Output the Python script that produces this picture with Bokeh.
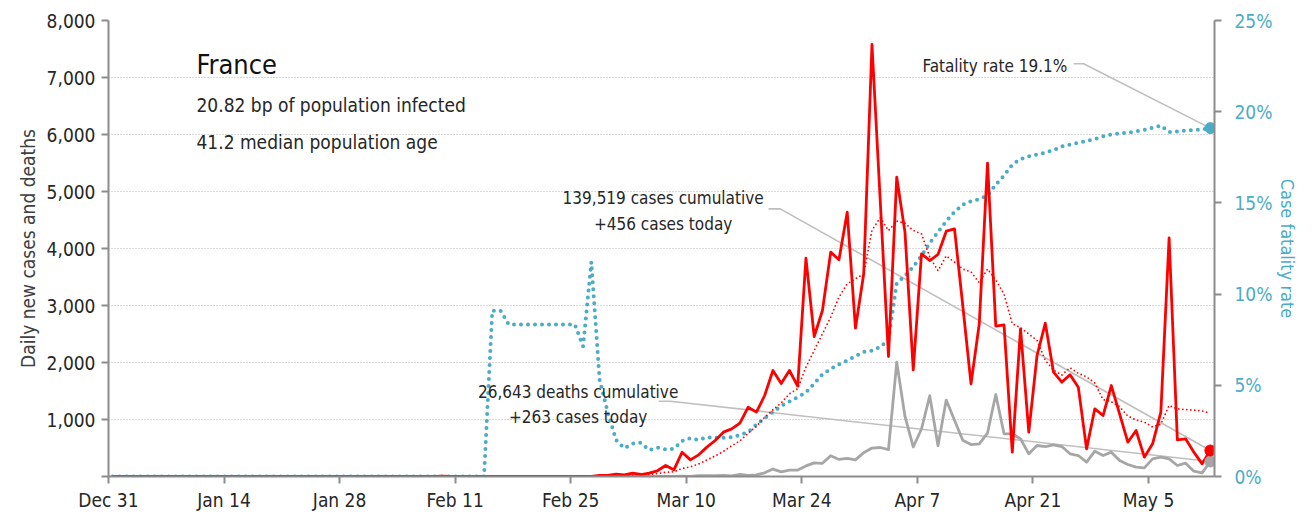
from bokeh.plotting import figure
from bokeh.models import Range1d, LinearAxis, FixedTicker, NumeralTickFormatter
from bokeh.core.properties import value
from bokeh.embed import file_html
from bokeh.resources import INLINE

# ---------------- data (Dec 31 .. May 13, one value per day) ----------------
tick_labels = ["Dec 31", "Jan 14", "Jan 28", "Feb 11", "Feb 25", "Mar 10",
               "Mar 24", "Apr 7", "Apr 21", "May 5"]
tick_days = [0, 14, 28, 42, 56, 70, 84, 98, 112, 126]

new_cases = (
    [0] * 25 + [3, 0, 0, 1, 0, 1, 0, 1] + [0] * 7 + [5] + [0] * 7 + [1] + [0] * 8 +
    [2, 3, 21, 19, 43, 30, 58, 35, 60, 100,
     193, 117, 427, 292, 380, 515, 632, 778, 836, 936,
     1216, 1129, 1421, 1860, 1630, 1860, 1585, 3830, 2456, 2912,
     3936, 3801, 4637, 2602, 3556, 7579, 4842, 2105, 5251, 4286,
     1871, 3907, 3789, 3895, 4304, 4345, 3000, 1626, 2679, 5497,
     2640, 2661, 427, 2591, 777, 2123, 2690, 1830, 1655, 1784,
     1567, 485, 1187, 1070, 1596, 1099, 602, 807, 339, 573,
     1129, 4187, 643, 661, 427, 222, 456]
)

new_deaths = (
    [0] * 46 + [1] + [0] * 11 + [1] + [0] * 4 +
    [1, 1, 2, 0, 2, 1, 8, 3, 15, 15,
     13, 18, 12, 36, 21, 27, 65, 130, 80, 112,
     112, 186, 240, 231, 365, 299, 319, 292, 418, 499,
     509, 471, 2004, 1053, 518, 833, 1417, 541, 1341, 987,
     635, 561, 574, 762, 1438, 749, 749, 661, 398, 544,
     526, 556, 526, 398, 368, 251, 444, 368, 427, 281,
     211, 164, 152, 310, 339, 310, 193, 234, 94, 64,
     263]
)

cases_avg7 = (
    [0] * 57 +
    [1, 1, 4, 6, 13, 17, 25, 30, 38, 52,
     74, 83, 140, 170, 220, 290, 360, 440, 540, 624,
     760, 880, 1040, 1170, 1290, 1450, 1540, 1918, 2211, 2503,
     2795, 3146, 3380, 3468, 3556, 4320, 4540, 4316, 4480, 4444,
     4316, 4257, 3850, 3610, 3870, 3760, 3640, 3590, 3400, 3640,
     3450, 3200, 2680, 2610, 2500, 2390, 2040, 1865, 1780, 1910,
     1810, 1750, 1640, 1350, 1310, 1225, 1060, 990, 955, 870,
     920, 1246, 1187, 1175, 1165, 1150, 1111]
)

fatality_pct = (
    [0] * 46 +
    [9.09, 9.09, 8.33, 8.33, 8.33, 8.33, 8.33, 8.33, 8.33, 8.33,
     8.33, 7.14, 11.76, 5.3, 3.5, 2.0, 1.55, 1.8, 1.85, 1.45,
     1.58, 1.48, 1.52, 1.95, 2.1, 2.0, 2.15, 2.13, 2.12, 2.15,
     2.28, 2.43, 2.85, 3.2, 3.53, 3.87, 4.1, 4.35, 4.6, 5.1,
     5.6, 5.9, 6.15, 6.35, 6.6, 6.83, 6.9, 7.1, 7.5, 10.6,
     11.0, 11.5, 12.1, 12.8, 13.4, 14.0, 14.5, 14.9, 15.1, 15.2,
     15.4, 16.0, 16.5, 17.1, 17.4, 17.55, 17.65, 17.75, 17.9, 18.1,
     18.2, 18.3, 18.4, 18.5, 18.65, 18.75, 18.8, 18.85, 18.92, 19.0,
     19.12, 19.24, 18.88, 18.92, 18.97, 19.0, 19.03, 19.1]
)

cumulative_cases = "139,519"
cumulative_deaths = "26,643"
country = "France"
subtitle_1 = "20.82 bp of population infected"
subtitle_2 = "41.2 median population age"

# ---------------- styling ----------------
FONT = "DejaVu Sans Condensed, Noto Sans Condensed, Roboto Condensed, Liberation Sans Narrow, Roboto, sans-serif"
TXT = "#262626"
AXIS = "#8c8c8c"
BLUE = "#4bacc6"
RED = "#ff0000"
GREY = "#a6a6a6"
LEADER = "#bfbfbf"

n = len(new_cases)
xs = [i + 0.5 for i in range(n)]
last_x = xs[-1]

p = figure(width=1307, height=516, output_backend="svg", toolbar_location=None,
           x_range=Range1d(0, n), y_range=Range1d(0, 8000),
           min_border_left=108, min_border_right=93, min_border_top=20,
           min_border_bottom=40)
p.outline_line_color = None
p.extra_y_ranges = {"cfr": Range1d(0, 25)}

# grid
p.xgrid.grid_line_color = None
p.ygrid.grid_line_color = "#b4b4b4"
p.ygrid.grid_line_dash = "1 2"
p.ygrid.grid_line_width = 1

def style_axis(ax, color):
    ax.axis_line_color = AXIS
    ax.axis_line_width = 2
    ax.major_tick_line_color = AXIS
    ax.major_tick_line_width = 2
    ax.major_tick_in = 0
    ax.major_tick_out = 7
    ax.minor_tick_line_color = None
    ax.major_label_text_font = FONT
    ax.major_label_text_font_size = "19px"
    ax.major_label_text_color = color
    ax.axis_label_text_font = FONT
    ax.axis_label_text_font_size = "19px"
    ax.axis_label_text_font_style = "normal"
    ax.axis_label_text_color = color

# left axis
ya = p.yaxis[0]
ya.ticker = FixedTicker(ticks=list(range(0, 8001, 1000)))
ya.formatter = NumeralTickFormatter(format="0,0")
ya.major_label_overrides = {0: ""}
ya.axis_label = "Daily new cases and deaths"
style_axis(ya, TXT)
ya.axis_label_text_color = "#404040"
ya.major_label_standoff = 6
ya.axis_label_standoff = 5

# bottom axis
xa = p.xaxis[0]
xa.ticker = FixedTicker(ticks=tick_days)
xa.major_label_overrides = {d: lab for d, lab in zip(tick_days, tick_labels)}
style_axis(xa, TXT)
xa.major_label_standoff = 5

# right axis
ra = LinearAxis(y_range_name="cfr", ticker=FixedTicker(ticks=[0, 5, 10, 15, 20, 25]))
ra.major_label_overrides = {v: f"{v}%" for v in [0, 5, 10, 15, 20, 25]}
ra.axis_label = "Case fatality rate"
style_axis(ra, BLUE)
ra.axis_label_text_font_size = "18px"
ra.major_label_standoff = 13
ra.axis_label_standoff = 2
p.add_layout(ra, "right")

# leader lines (annotation geometry)
p.line(x=[79.97, 81.39, last_x], y=[4696, 4696, new_cases[-1]], line_color=LEADER, line_width=1.6)
p.line(x=[66.65, 68.06, last_x], y=[1321, 1321, new_deaths[-1]], line_color=LEADER, line_width=1.6)
p.line(x=[116.93, 118.14, last_x], y=[22.63, 22.63, fatality_pct[-1]], line_color=LEADER,
       line_width=1.6, y_range_name="cfr")

# series
p.line(x=xs, y=fatality_pct, line_color=BLUE, line_width=4, line_dash="0 7",
       line_cap="round", y_range_name="cfr")
p.line(x=xs, y=new_deaths, line_color=GREY, line_width=2.8, line_join="round")
p.line(x=xs, y=cases_avg7, line_color=RED, line_width=1.8, line_dash="0 4", line_cap="round")
p.line(x=xs, y=new_cases, line_color=RED, line_width=2.8, line_join="round")

# end markers
p.scatter(x=[last_x], y=[fatality_pct[-1]], size=11, color=BLUE, y_range_name="cfr")
p.scatter(x=[last_x], y=[new_deaths[-1]], size=11, color=GREY)
p.scatter(x=[last_x], y=[new_cases[-1]], size=11, color=RED)

# texts
p.text(x=[10.66], y=[7228], text=[country], text_font=value(FONT),
       text_font_size=value("27px"), text_color="#111111", text_baseline="alphabetic")
p.text(x=[10.66, 10.66], y=[6509, 5868], text=[subtitle_1, subtitle_2], text_font=value(FONT),
       text_font_size=value("19px"), text_color=TXT, text_baseline="alphabetic")
p.text(x=[116.16], y=[7205], text=[f"Fatality rate {fatality_pct[-1]:.1f}%"], text_font=value(FONT),
       text_font_size=value("17px"), text_color=TXT, text_align="right", text_baseline="alphabetic")
p.text(x=[67.2, 67.2], y=[4886, 4433],
       text=[f"{cumulative_cases} cases cumulative", f"+{new_cases[-1]} cases today"],
       text_font=value(FONT), text_font_size=value("17px"), text_color=TXT,
       text_align="center", text_baseline="alphabetic")
p.text(x=[56.9, 56.9], y=[1479, 1040],
       text=[f"{cumulative_deaths} deaths cumulative", f"+{new_deaths[-1]} cases today"],
       text_font=value(FONT), text_font_size=value("17px"), text_color=TXT,
       text_align="center", text_baseline="alphabetic")

open("out.html", "w").write(file_html(p, INLINE))
